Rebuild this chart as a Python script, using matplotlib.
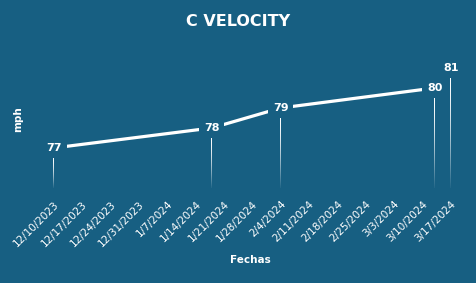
import numpy as np
import pandas as pd
from matplotlib import pyplot as plt
import matplotlib.dates as mdates

# data
fechas = ["2023-12-10", "2024-01-18", "2024-02-04", "2024-03-13", "2024-03-17"]
velocidad = [77, 78, 79, 80, 81]
tick_fechas = pd.date_range("2023-12-10", "2024-03-17", freq="7D")

bg = "#175f82"

x = pd.to_datetime(fechas)
y = np.array(velocidad, dtype=float)

fig = plt.figure(figsize=(4.76, 2.83), dpi=100, facecolor=bg)
ax = fig.add_axes([0.063, 0.336, 0.924, 0.452], facecolor=bg)

# drop lines fading towards the bottom (gradient image per line)
grad = np.ones((100, 1, 4))
grad[:, 0, 3] = 1.0 - 0.95 * np.linspace(0, 1, 100) ** 1.5
for xi, yi in zip(mdates.date2num(x), y):
    ax.imshow(grad, extent=[xi - 0.1, xi + 0.1, 75, yi - 0.5],
              aspect="auto", origin="upper", interpolation="bilinear", zorder=1)

ax.plot(x, y, color="white", lw=2.3, zorder=2)

for xi, yi in zip(x, y):
    ax.text(xi, yi, "%d" % yi, color="white", fontsize=8, fontweight="bold",
            ha="center", va="center", zorder=3,
            bbox=dict(facecolor=bg, edgecolor="none", pad=3.5))

ax.set_xlim(x[0] - pd.Timedelta(days=5.9), x[-1] + pd.Timedelta(days=4.7))
ax.set_ylim(75, 81.4)

ax.set_xticks(tick_fechas)
ax.set_xticklabels([f"{d.month}/{d.day}/{d.year}" for d in tick_fechas],
                   rotation=45, ha="right", rotation_mode="anchor",
                   color="white", fontsize=7.5)
ax.tick_params(axis="x", length=0, pad=8)
ax.set_yticks([])
for s in ax.spines.values():
    s.set_visible(False)

ax.set_xlabel("Fechas", color="white", fontsize=7.5, fontweight="bold", labelpad=5)
ax.set_ylabel("mph", color="white", fontsize=7.5, fontweight="bold")
ax.yaxis.set_label_coords(-0.015, 0.54)

fig.text(0.5, 0.925, "C VELOCITY", color="white", fontsize=11.5,
         fontweight="bold", ha="center", va="center")

fig.savefig("out.png", dpi=100, facecolor=bg)
